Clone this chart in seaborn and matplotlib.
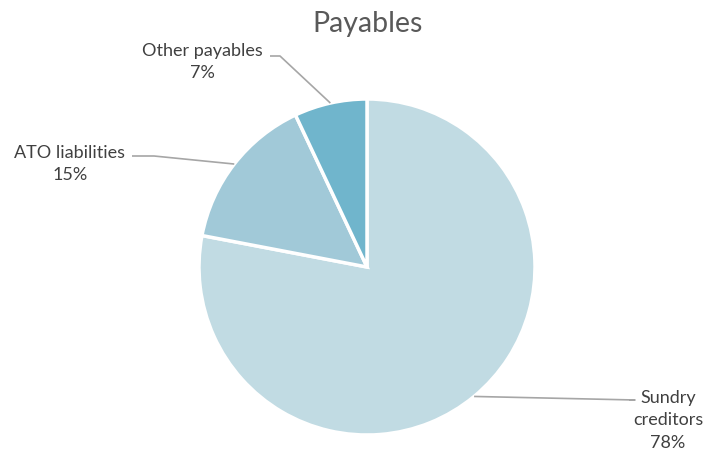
import numpy as np
import matplotlib
matplotlib.use("Agg")
import matplotlib.pyplot as plt
import seaborn as sns

categories = ["Sundry creditors", "ATO liabilities", "Other payables"]
label_texts = ["Sundry\ncreditors", "ATO liabilities", "Other payables"]
values = [78, 15, 7]
colors = ["#c1dbe3", "#a1c9d8", "#70b5cc"]
title = "Payables"

sns.set_theme(style="white")
plt.rcParams["font.family"] = ["Lato", "DejaVu Sans"]

W, H = 719, 455
fig = plt.figure(figsize=(W / 100, H / 100), dpi=100)
ax = fig.add_axes([0, 0, 1, 1])

cx, cy, r = 367, H - 267, 168
wedges, _ = ax.pie(values, colors=colors, startangle=90, counterclock=False,
                   center=(cx, cy), radius=r, frame=True,
                   wedgeprops=dict(edgecolor="white", linewidth=2.5))
ax.set_xlim(0, W)
ax.set_ylim(0, H)
ax.set_aspect("equal")
ax.axis("off")

txt_color = "#404040"
line_color = "#a6a6a6"
# label anchors (text center) and elbow points, in pixel coords
label_pos = [(668, 420), (70, 164), (202, 62)]
elbows = [(635, 400), (154, 156), (280, 56)]
starts = [(629, 400), (132, 156), (270, 56)]
for w, lab, v, lp, el, st in zip(wedges, label_texts, values, label_pos, elbows, starts):
    ang = np.deg2rad((w.theta1 + w.theta2) / 2)
    px = cx + r * np.cos(ang)
    py = cy + r * np.sin(ang)
    ax.plot([px, el[0], st[0]], [py, H - el[1], H - st[1]], color=line_color, lw=1.2,
            solid_capstyle="butt")
    ax.text(lp[0], H - lp[1], f"{lab}\n{v}%", ha="center", va="center",
            fontsize=13, color=txt_color, linespacing=1.5)

ax.text(368, H - 24, title, ha="center", va="center", fontsize=20.5, color="#595959")

fig.savefig("out.png", dpi=100, facecolor="white")
